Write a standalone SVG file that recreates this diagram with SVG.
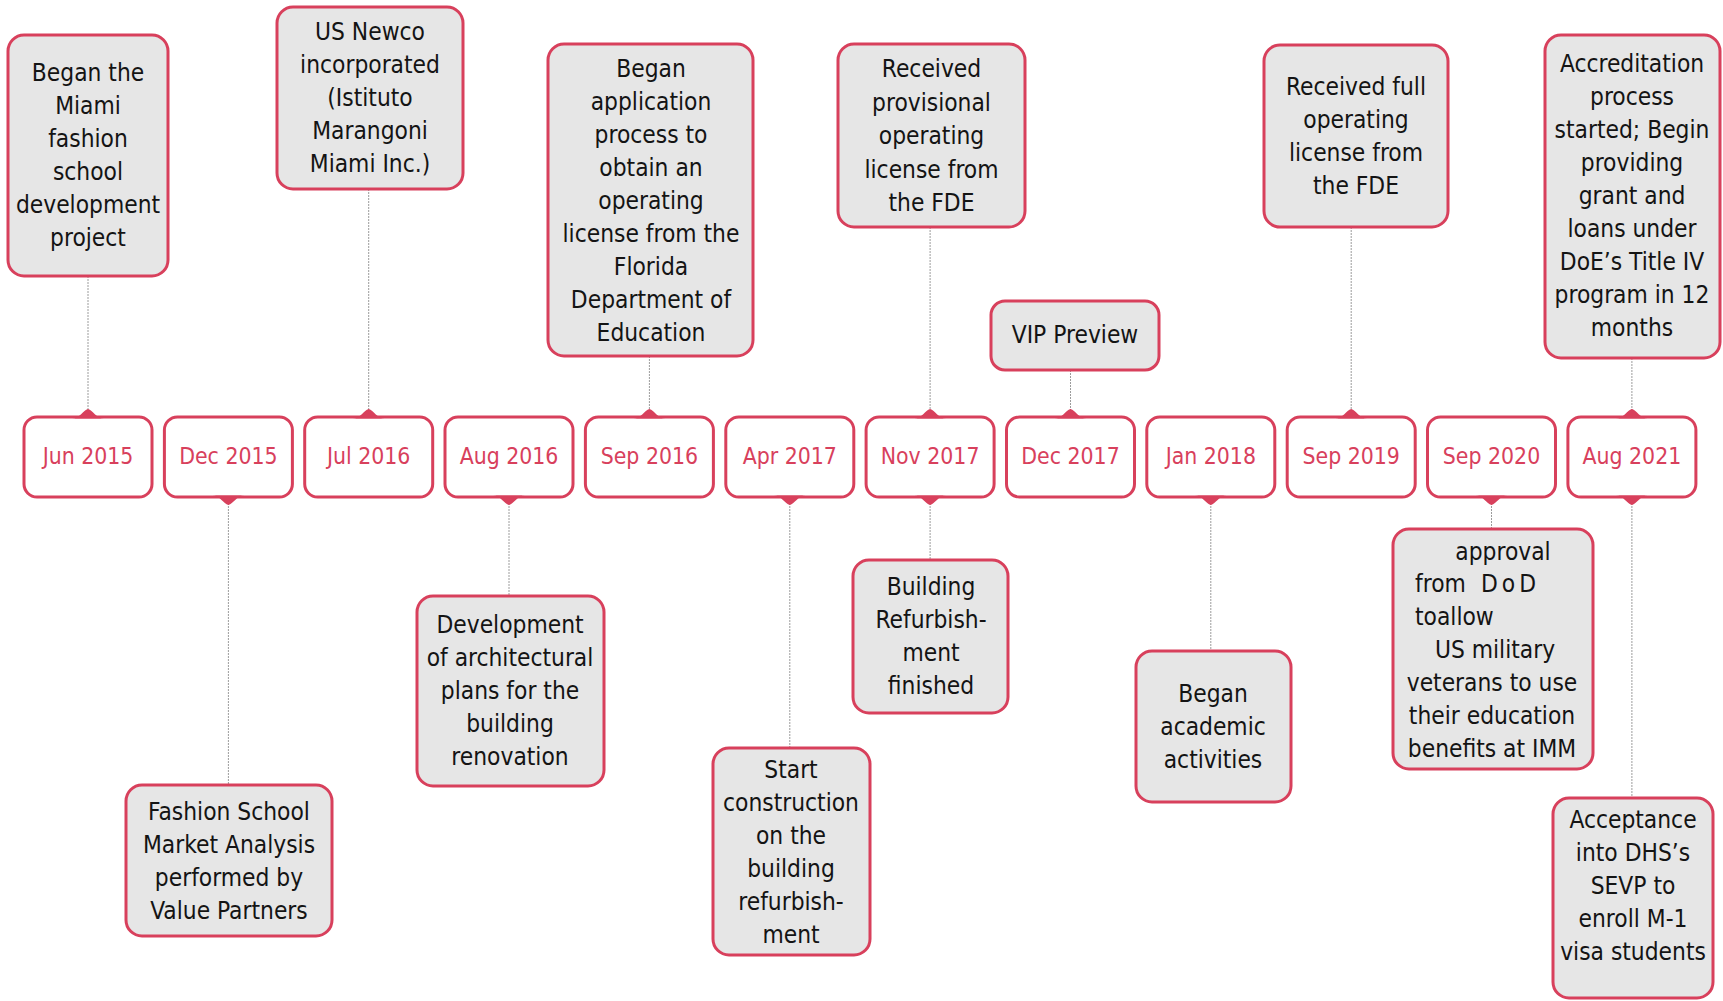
<svg xmlns="http://www.w3.org/2000/svg" xmlns:xlink="http://www.w3.org/1999/xlink" width="1723" height="1001" viewBox="0 0 1723 1001">
<style>
.box{fill:#e6e6e6;stroke:#d8405c;stroke-width:3}
.date{fill:#ffffff;stroke:#d8405c;stroke-width:3}
.t{font-family:"DejaVu Sans Condensed","DejaVu Sans",sans-serif;font-stretch:condensed;font-size:24.3px;fill:#141414;text-anchor:middle}
.d{font-family:"DejaVu Sans Condensed","DejaVu Sans",sans-serif;font-stretch:condensed;font-size:22.8px;fill:#d8405c;text-anchor:middle}
.conn{stroke:#9c9c9c;stroke-width:1;stroke-dasharray:2 1;fill:none}
.bump{fill:#d8405c}
</style>
<defs>
<path id="bt" class="bump" d="M-16,1.5 C-8,1.5 -5,-7 0,-8 C5,-7 8,1.5 16,1.5 Z"/>
<path id="bb" class="bump" d="M-16,-1.5 C-8,-1.5 -5,7 0,8 C5,7 8,-1.5 16,-1.5 Z"/>
</defs>
<rect width="1723" height="1001" fill="#ffffff"/>

<g id="connectors">
<line class="conn" x1="88" y1="276" x2="88" y2="410"/>
<line class="conn" x1="228.4" y1="503" x2="228.4" y2="785"/>
<line class="conn" x1="368.7" y1="189" x2="368.7" y2="410"/>
<line class="conn" x1="509" y1="503" x2="509" y2="596"/>
<line class="conn" x1="649.4" y1="356" x2="649.4" y2="410"/>
<line class="conn" x1="789.8" y1="503" x2="789.8" y2="748"/>
<line class="conn" x1="930.1" y1="227" x2="930.1" y2="410"/>
<line class="conn" x1="930.1" y1="503" x2="930.1" y2="560"/>
<line class="conn" x1="1070.5" y1="370" x2="1070.5" y2="410"/>
<line class="conn" x1="1210.8" y1="503" x2="1210.8" y2="651"/>
<line class="conn" x1="1351.2" y1="227" x2="1351.2" y2="410"/>
<line class="conn" x1="1491.5" y1="503" x2="1491.5" y2="529"/>
<line class="conn" x1="1631.9" y1="358" x2="1631.9" y2="410"/>
<line class="conn" x1="1631.9" y1="503" x2="1631.9" y2="798"/>
</g>

<g id="dates">
<g id="d-jun2015"><rect class="date" x="24" y="417" width="128" height="80" rx="13"/><use xlink:href="#bt" x="88" y="417"/><text class="d" x="88" y="464">Jun 2015</text></g>
<g id="d-dec2015"><rect class="date" x="164.4" y="417" width="128" height="80" rx="13"/><use xlink:href="#bb" x="228.4" y="497"/><text class="d" x="228.4" y="464">Dec 2015</text></g>
<g id="d-jul2016"><rect class="date" x="304.7" y="417" width="128" height="80" rx="13"/><use xlink:href="#bt" x="368.7" y="417"/><text class="d" x="368.7" y="464">Jul 2016</text></g>
<g id="d-aug2016"><rect class="date" x="445" y="417" width="128" height="80" rx="13"/><use xlink:href="#bb" x="509" y="497"/><text class="d" x="509" y="464">Aug 2016</text></g>
<g id="d-sep2016"><rect class="date" x="585.4" y="417" width="128" height="80" rx="13"/><use xlink:href="#bt" x="649.4" y="417"/><text class="d" x="649.4" y="464">Sep 2016</text></g>
<g id="d-apr2017"><rect class="date" x="725.8" y="417" width="128" height="80" rx="13"/><use xlink:href="#bb" x="789.8" y="497"/><text class="d" x="789.8" y="464">Apr 2017</text></g>
<g id="d-nov2017"><rect class="date" x="866.1" y="417" width="128" height="80" rx="13"/><use xlink:href="#bt" x="930.1" y="417"/><use xlink:href="#bb" x="930.1" y="497"/><text class="d" x="930.1" y="464">Nov 2017</text></g>
<g id="d-dec2017"><rect class="date" x="1006.5" y="417" width="128" height="80" rx="13"/><use xlink:href="#bt" x="1070.5" y="417"/><text class="d" x="1070.5" y="464">Dec 2017</text></g>
<g id="d-jan2018"><rect class="date" x="1146.8" y="417" width="128" height="80" rx="13"/><use xlink:href="#bb" x="1210.8" y="497"/><text class="d" x="1210.8" y="464">Jan 2018</text></g>
<g id="d-sep2019"><rect class="date" x="1287.2" y="417" width="128" height="80" rx="13"/><use xlink:href="#bt" x="1351.2" y="417"/><text class="d" x="1351.2" y="464">Sep 2019</text></g>
<g id="d-sep2020"><rect class="date" x="1427.5" y="417" width="128" height="80" rx="13"/><use xlink:href="#bb" x="1491.5" y="497"/><text class="d" x="1491.5" y="464">Sep 2020</text></g>
<g id="d-aug2021"><rect class="date" x="1567.9" y="417" width="128" height="80" rx="13"/><use xlink:href="#bt" x="1631.9" y="417"/><use xlink:href="#bb" x="1631.9" y="497"/><text class="d" x="1631.9" y="464">Aug 2021</text></g>
</g>

<g id="n-miami-project"><rect class="box" x="8" y="35" width="160" height="241" rx="16"/>
<text class="t" x="88"><tspan x="88" y="81">Began the</tspan><tspan x="88" y="114">Miami</tspan><tspan x="88" y="147">fashion</tspan><tspan x="88" y="180">school</tspan><tspan x="88" y="213">development</tspan><tspan x="88" y="246">project</tspan></text></g>

<g id="n-us-newco"><rect class="box" x="277" y="7" width="186" height="182" rx="16"/>
<text class="t"><tspan x="370" y="40">US Newco</tspan><tspan x="370" y="73">incorporated</tspan><tspan x="370" y="106">(Istituto</tspan><tspan x="370" y="139">Marangoni</tspan><tspan x="370" y="172">Miami Inc.)</tspan></text></g>

<g id="n-application"><rect class="box" x="548" y="44" width="205" height="312" rx="16"/>
<text class="t"><tspan x="651" y="77">Began</tspan><tspan x="651" y="110">application</tspan><tspan x="651" y="143">process to</tspan><tspan x="651" y="176">obtain an</tspan><tspan x="651" y="209">operating</tspan><tspan x="651" y="242">license from the</tspan><tspan x="651" y="275">Florida</tspan><tspan x="651" y="308">Department of</tspan><tspan x="651" y="341">Education</tspan></text></g>

<g id="n-provisional"><rect class="box" x="838" y="44" width="187" height="183" rx="16"/>
<text class="t"><tspan x="931.5" y="77">Received</tspan><tspan x="931.5" y="110.5">provisional</tspan><tspan x="931.5" y="144">operating</tspan><tspan x="931.5" y="177.5">license from</tspan><tspan x="931.5" y="211">the FDE</tspan></text></g>

<g id="n-vip"><rect class="box" x="991" y="301" width="168" height="69" rx="14"/>
<text class="t" x="1075" y="343">VIP Preview</text></g>

<g id="n-full-license"><rect class="box" x="1264" y="45" width="184" height="182" rx="16"/>
<text class="t"><tspan x="1356" y="95">Received full</tspan><tspan x="1356" y="128">operating</tspan><tspan x="1356" y="161">license from</tspan><tspan x="1356" y="194">the FDE</tspan></text></g>

<g id="n-accreditation"><rect class="box" x="1545" y="35" width="175" height="323" rx="16"/>
<text class="t"><tspan x="1632" y="72">Accreditation</tspan><tspan x="1632" y="105">process</tspan><tspan x="1632" y="138">started; Begin</tspan><tspan x="1632" y="171">providing</tspan><tspan x="1632" y="204">grant and</tspan><tspan x="1632" y="237">loans under</tspan><tspan x="1632" y="270">DoE’s Title IV</tspan><tspan x="1632" y="303">program in 12</tspan><tspan x="1632" y="336">months</tspan></text></g>

<g id="n-market-analysis"><rect class="box" x="126" y="785" width="206" height="151" rx="16"/>
<text class="t"><tspan x="229" y="820">Fashion School</tspan><tspan x="229" y="853">Market Analysis</tspan><tspan x="229" y="886">performed by</tspan><tspan x="229" y="919">Value Partners</tspan></text></g>

<g id="n-architectural"><rect class="box" x="417" y="596" width="187" height="190" rx="16"/>
<text class="t"><tspan x="510" y="633">Development</tspan><tspan x="510" y="666">of architectural</tspan><tspan x="510" y="699">plans for the</tspan><tspan x="510" y="732">building</tspan><tspan x="510" y="765">renovation</tspan></text></g>

<g id="n-start-construction"><rect class="box" x="713" y="748" width="157" height="207" rx="16"/>
<text class="t"><tspan x="791" y="778">Start</tspan><tspan x="791" y="811">construction</tspan><tspan x="791" y="844">on the</tspan><tspan x="791" y="877">building</tspan><tspan x="791" y="910">refurbish-</tspan><tspan x="791" y="943">ment</tspan></text></g>

<g id="n-refurb-finished"><rect class="box" x="853" y="560" width="155" height="153" rx="16"/>
<text class="t"><tspan x="931" y="595">Building</tspan><tspan x="931" y="628">Refurbish-</tspan><tspan x="931" y="661">ment</tspan><tspan x="931" y="694">finished</tspan></text></g>

<g id="n-academic"><rect class="box" x="1136" y="651" width="155" height="151" rx="16"/>
<text class="t"><tspan x="1213" y="702">Began</tspan><tspan x="1213" y="735">academic</tspan><tspan x="1213" y="768">activities</tspan></text></g>

<g id="n-dod"><rect class="box" x="1393" y="529" width="200" height="240" rx="16"/>
<text class="t" x="1503" y="560">approval</text>
<text class="t" style="text-anchor:start" x="1415" y="592">from <tspan x="1481" letter-spacing="4">DoD</tspan></text>
<text class="t" style="text-anchor:start" x="1415" y="625">toallow</text>
<text class="t" x="1495" y="658">US  military</text>
<text class="t" x="1492" y="691">veterans to use</text>
<text class="t" x="1492" y="724">their education</text>
<text class="t" x="1492" y="757">benefits at IMM</text></g>

<g id="n-sevp"><rect class="box" x="1553" y="798" width="160" height="200" rx="16"/>
<text class="t"><tspan x="1633" y="828">Acceptance</tspan><tspan x="1633" y="861">into DHS’s</tspan><tspan x="1633" y="894">SEVP to</tspan><tspan x="1633" y="927">enroll M-1</tspan><tspan x="1633" y="960">visa students</tspan></text></g>
</svg>
